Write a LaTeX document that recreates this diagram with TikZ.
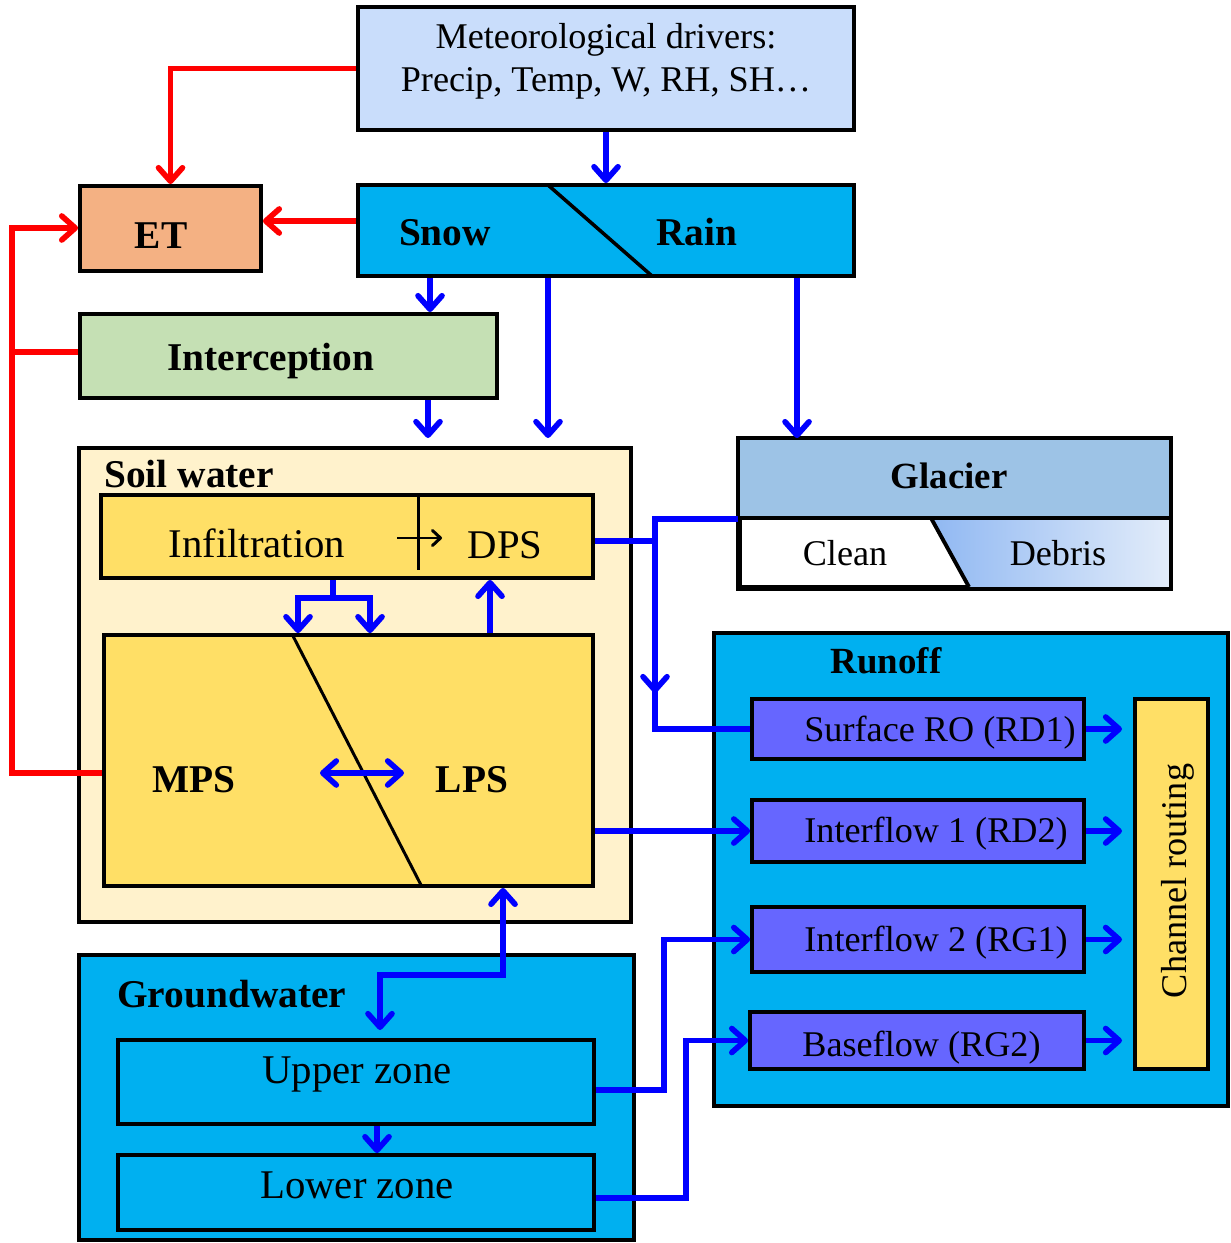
\documentclass[tikz,border=0pt]{standalone}
\usepackage{fontspec}
\setmainfont{Liberation Serif}
\usetikzlibrary{arrows.meta,positioning,calc}

\newcommand{\plainsize}{\fontsize{20.6}{24.7}\selectfont}
\newcommand{\largesize}{\fontsize{23.2}{27.8}\selectfont}
\newcommand{\boldsize}{\fontsize{22.4}{26.5}\selectfont\bfseries}
\newcommand{\smallbold}{\fontsize{21}{25}\selectfont\bfseries}

\definecolor{metblue}{HTML}{C9DDFB}
\definecolor{cyanbox}{HTML}{00B0F0}
\definecolor{etbox}{HTML}{F4B183}
\definecolor{icpbox}{HTML}{C5E0B4}
\definecolor{soilbox}{HTML}{FFF2CC}
\definecolor{yellowbox}{HTML}{FFDF66}
\definecolor{robox}{HTML}{6666FF}
\definecolor{glactop}{HTML}{9DC3E6}
\definecolor{debrisL}{HTML}{90B8F2}
\definecolor{debrisR}{HTML}{E2ECFA}

\begin{document}
\begin{tikzpicture}
[x=0.02cm, y=-0.02cm, font=\plainsize,
box/.style={draw=black, line width=2.2pt, inner sep=0pt},
txt/.style={inner sep=0pt, anchor=base},
lbl/.style={inner sep=0pt, anchor=base, font=\boldsize},
flowline/.style={blue, line width=3.2pt},
flow/.style={flowline, -{Straight Barb[length=2.7mm,width=4.8mm,round]}},
flowboth/.style={flowline, {Straight Barb[length=2.7mm,width=4.8mm,round]}-{Straight Barb[length=2.7mm,width=4.8mm,round]}},
etline/.style={red, line width=3.2pt},
etflow/.style={etline, -{Straight Barb[length=2.7mm,width=4.8mm,round]}}]
%%%%%%%%%%

\useasboundingbox (0,0) rectangle (1230,1243);

%% drivers, ET and interception
\node[box, fill=metblue, minimum width=9.92cm, minimum height=2.46cm] (met) at (606,68.5) {};
\node[inner sep=0pt, align=center] (mettxt) at (606,61) {Meteorological drivers:\\Precip, Temp, W, RH, SH…};

\node[box, fill=cyanbox, minimum width=9.92cm, minimum height=1.82cm] (sr) at (606,230.5) {};
\draw[line width=2pt] (548,185) -- (652,276);
\node[lbl] (snowtxt) at (445,246) {Snow};
\node[lbl] (raintxt) at (697,246) {Rain};

\node[box, fill=etbox, minimum width=3.62cm, minimum height=1.70cm] (et) at (170.5,228.5) {};
\node[lbl] (ettxt) at (161,249) {ET};

\node[box, fill=icpbox, minimum width=8.34cm, minimum height=1.68cm] (icp) at (288.5,356) {};
\node[lbl] (icptxt) at (271,370) {Interception};

%% soil water
\node[box, fill=soilbox, minimum width=11.04cm, minimum height=9.48cm] (soil) at (355,685) {};
\node[lbl, anchor=base west] (soiltxt) at (104,487) {Soil water};

\node[box, fill=yellowbox, minimum width=9.84cm, minimum height=1.66cm] (inf) at (347,536.5) {};
\draw[line width=1.7pt] (418,497) -- (418,570);
\draw[line width=1.7pt, -{Straight Barb[length=1.6mm,width=3mm,round]}] (397,538) -- (442,538);
\node[txt, font=\largesize] (inftxt) at (257,557) {Infiltration};
\node[txt, font=\largesize] (dpstxt) at (505,558) {DPS};

\node[box, fill=yellowbox, minimum width=9.78cm, minimum height=5.02cm] (ml) at (348.5,760.5) {};
\draw[line width=1.7pt] (293,636) -- (421,885);
\node[lbl] (mpstxt) at (194,792) {MPS};
\node[lbl] (lpstxt) at (472,792) {LPS};

%% glacier
\node[box, fill=white, minimum width=8.58cm, minimum height=2.94cm] (glac) at (954.5,513.5) {};
\fill[glactop] (740,440) rectangle (1169,518);
\fill[left color=debrisL, right color=debrisR] (931,518) -- (1169,518) -- (1169,587) -- (969,587) -- cycle;
\draw[box] (glac.north west) rectangle (glac.south east);
\draw[line width=2.2pt] (glac.west |- 0,518) -- (glac.east |- 0,518);
\draw[line width=2.2pt] (931,518) -- (969,587);
\node[lbl, font=\smallbold] (glactxt) at (949,488) {Glacier};
\node[txt] (cleantxt) at (845,565) {Clean};
\node[txt] (debristxt) at (1058,565) {Debris};

%% runoff
\node[box, fill=cyanbox, minimum width=10.28cm, minimum height=9.46cm] (ro) at (971,869.5) {};
\node[lbl, font=\smallbold] (rotxt) at (886,673) {Runoff};
\node[box, fill=robox, minimum width=6.64cm, minimum height=1.20cm] (sro) at (918,729) {};
\node[box, fill=robox, minimum width=6.64cm, minimum height=1.24cm] (if1) at (918,831) {};
\node[box, fill=robox, minimum width=6.64cm, minimum height=1.30cm] (if2) at (918,939.5) {};
\node[box, fill=robox, minimum width=6.68cm, minimum height=1.14cm] (base) at (917,1040.5) {};
\node[txt, anchor=base west] (srotxt) at (804,741) {Surface RO (RD1)};
\node[txt, anchor=base west] (if1txt) at (804,842) {Interflow 1 (RD2)};
\node[txt, anchor=base west] (if2txt) at (804,951) {Interflow 2 (RG1)};
\node[txt, anchor=base west] (basetxt) at (802,1056) {Baseflow (RG2)};
\node[box, fill=yellowbox, minimum width=1.46cm, minimum height=7.40cm] (chan) at (1171.5,884) {};
\node[txt, rotate=90] (chantxt) at (1186,881) {Channel routing};

%% groundwater
\node[box, fill=cyanbox, minimum width=11.10cm, minimum height=5.70cm] (gw) at (356.5,1097.5) {};
\node[lbl, anchor=base west] (gwtxt) at (117,1007) {Groundwater};
\node[box, fill=cyanbox, minimum width=9.52cm, minimum height=1.68cm] (upz) at (356,1082) {};
\node[txt, font=\largesize] (upztxt) at (357,1083) {Upper zone};
\node[box, fill=cyanbox, minimum width=9.52cm, minimum height=1.50cm] (loz) at (356,1192.5) {};
\node[txt, font=\largesize] (loztxt) at (357,1198) {Lower zone};

%% evapotranspiration
\draw[etflow] (met.west) -| (et.north);
\draw[etflow] (sr.west |- 0,221) -- (et.east |- 0,221);
\coordinate (etloop) at (12,228);
\draw[etflow] (ml.west |- 0,773) -| (etloop) -- (et.west |- etloop);
\draw[etline] (icp.west |- 0,352) -- (etloop |- 0,352);

%% precipitation
\draw[flow] (met.south) -- (sr.north);
\draw[flow] (sr.south -| 430,0) -- (icp.north -| 430,0);
\draw[flow] (sr.south -| 548,0) -- (548,438);
\draw[flow] (sr.south -| 797,0) -- (glac.north -| 797,0);
\draw[flow] (icp.south -| 428,0) -- (428,438);

%% soil water
\draw[flowline] (inf.south -| 333,0) -- (333,598) coordinate (split);
\draw[flow] (split) -| (ml.north -| 298,0);
\draw[flow] (split) -| (ml.north -| 370,0);
\draw[flow] (ml.north -| 490,0) -- (inf.south -| 490,0);
\draw[flowboth] (320,773) -- (404,773);

%% runoff
\coordinate (junc) at (655,519);
\draw[flowline] (glac.west |- junc) -- (junc) |- (sro.west);
\draw[flowline] (inf.east |- 0,541) -- (junc |- 0,541);
\draw[flow] (junc) -- (655,693);
\draw[flow] (ml.east |- if1.west) -- (if1.west);
\foreach \r in {sro,if1,if2,base}
    \draw[flow] (\r.east) -- (\r.east -| 1122,0);

%% groundwater
\draw[flowboth] (ml.south -| 503,0) |- (380,975) -- (380,1030);
\draw[flow] (upz.south -| 377,0) -- (loz.north -| 377,0);
\draw[flow] (upz.east |- 0,1090) -- (664,1090) |- (if2.west);
\draw[flow] (loz.east |- 0,1198) -- (686,1198) |- (base.west);
\end{tikzpicture}
\end{document}
